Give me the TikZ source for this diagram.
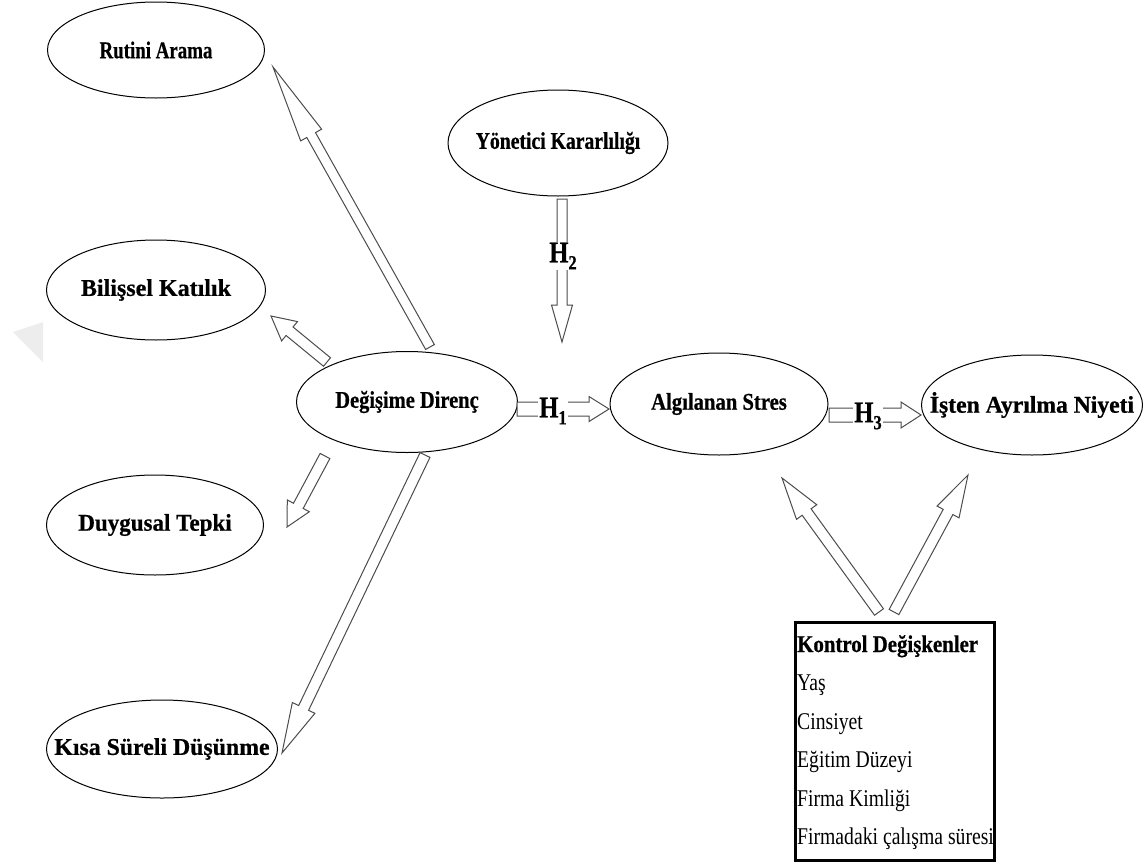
\documentclass[tikz,border=0pt]{standalone}
\usepackage{fontspec}
\setmainfont{Liberation Serif}[FakeStretch=0.82, BoldFeatures={FakeBold=0.6}]
\usetikzlibrary{shapes.geometric,calc}

\tikzset{
  concept/.style={ellipse, draw=black, line width=1pt, fill=white, inner sep=0pt,
    font=\bfseries\fontsize{24}{28}\selectfont},
  hollow/.style={draw=black!70, line width=1pt, fill=white, line join=miter},
  hlabel/.style={fill=white, inner sep=1pt, font=\bfseries\fontsize{30}{32}\selectfont},
  ctrlbox/.style={draw=black, line width=2.6pt, fill=white},
  ctrltext/.style={anchor=base west, inner sep=0pt, font=\fontsize{24}{28}\selectfont},
  mark shade/.style={fill=black!7, draw=none},
}

% hollow block arrow: tail, tip, shaft half-width, head half-width, head length
\newcommand\blockarrow[5]{%
  \coordinate (hb) at ($(#2)!#5!(#1)$);
  \filldraw[hollow] ($(#1)!#3!90:(#2)$) -- ($(hb)!#3!90:(#2)$) -- ($(hb)!#4!90:(#2)$)
    -- (#2) -- ($(hb)!#4!-90:(#2)$) -- ($(hb)!#3!-90:(#2)$) -- ($(#1)!#3!-90:(#2)$) -- cycle;
}
% hypothesis label with a lowered index
\newcommand\hyp[1]{H\raisebox{-7pt}{\fontsize{20}{20}\selectfont #1}}
% ellipse label: the ellipse keeps its set size, the text is widened by #1
\newcommand\lbl[2][1]{\makebox[0pt]{\scalebox{#1}[1]{#2}}}

\begin{document}
\begin{tikzpicture}[x=1pt,y=-1pt]
\useasboundingbox (0,0) rectangle (1144,865);

% faint corner mark at the left edge
\fill[mark shade] (13,332) -- (43,322) -- (43,362) -- cycle;

% concepts
\node[concept, minimum width=217pt, minimum height=96pt]  (rutin)    at (156,50)   {\lbl[0.96]{Rutini Arama}};
\node[concept, minimum width=220pt, minimum height=106pt] (yonetici) at (558,143)  {\lbl[1.0]{Yönetici Kararlılığı}};
\node[concept, minimum width=219pt, minimum height=100pt] (bilissel) at (156,290)  {\lbl[1.22]{Bilişsel Katılık}};
\node[concept, minimum width=221pt, minimum height=101pt] (direnc)   at (407,402)  {\lbl[1.04]{Değişime Direnç}};
\node[concept, minimum width=217pt, minimum height=100pt] (duygusal) at (155,525)  {\lbl[1.17]{Duygusal Tepki}};
\node[concept, minimum width=231pt, minimum height=98pt]  (kisa)     at (162,749)  {\lbl[1.21]{Kısa Süreli Düşünme}};
\node[concept, minimum width=218pt, minimum height=102pt] (stres)    at (719,404)  {\lbl[1.05]{Algılanan Stres}};
\node[concept, minimum width=221pt, minimum height=100pt] (niyet)    at (1032,405) {\lbl[1.2]{İşten Ayrılma Niyeti}};

% control variables box
\node[ctrlbox, anchor=north west, minimum width=199pt, minimum height=238pt, inner sep=0pt] (kontrol) at (794,621) {};
\node[ctrltext, font=\bfseries\fontsize{24}{28}\selectfont] (kv0) at (797,652) {\scalebox{1.06}[1]{Kontrol Değişkenler}};
\node[ctrltext] (kv1) at (797,690.5) {Yaş};
\node[ctrltext] (kv2) at (797,729) {Cinsiyet};
\node[ctrltext] (kv3) at (797,767.5) {Eğitim Düzeyi};
\node[ctrltext] (kv4) at (797,806) {Firma Kimliği};
\node[ctrltext] (kv5) at (797,844.5) {Firmadaki çalışma süresi};

% arrow end points
\coordinate (rt-tail) at (430,347);  \coordinate (rt-tip) at (273,67);
\coordinate (bk-tail) at (327,362);  \coordinate (bk-tip) at (271,316);
\coordinate (dt-tail) at (325,456);  \coordinate (dt-tip) at (287,527);
\coordinate (ks-tail) at (425,455);  \coordinate (ks-tip) at (282,753);
\coordinate (h2-tail) at (562,199);  \coordinate (h2-tip) at (562,342);
\coordinate (h1-tail) at (517,409);  \coordinate (h1-tip) at (609,409);
\coordinate (h3-tail) at (829,415);  \coordinate (h3-tip) at (921,415);
\coordinate (ka-tail) at (879,612);  \coordinate (ka-tip) at (782,478);
\coordinate (kn-tail) at (894,612);  \coordinate (kn-tip) at (968,475);

% dimensions of resistance
\blockarrow{rt-tail}{rt-tip}{5pt}{12pt}{78pt}
\blockarrow{bk-tail}{bk-tip}{5.5pt}{12.5pt}{24pt}
\blockarrow{dt-tail}{dt-tip}{5.5pt}{12.5pt}{24pt}
\blockarrow{ks-tail}{ks-tip}{5.5pt}{12.5pt}{50pt}

% hypotheses
\blockarrow{h2-tail}{h2-tip}{5pt}{10.5pt}{37pt}
\blockarrow{h1-tail}{h1-tip}{7pt}{12.5pt}{20pt}
\blockarrow{h3-tail}{h3-tip}{7pt}{13pt}{20pt}
\node[hlabel] (h2) at (563,256) {\hyp{2}};
\node[hlabel] (h1) at (553,411) {\hyp{1}};
\node[hlabel] (h3) at (868,416) {\hyp{3}};

% control paths
\blockarrow{ka-tail}{ka-tip}{5.5pt}{12.5pt}{42pt}
\blockarrow{kn-tail}{kn-tip}{5.5pt}{12.5pt}{42pt}
\end{tikzpicture}
\end{document}
